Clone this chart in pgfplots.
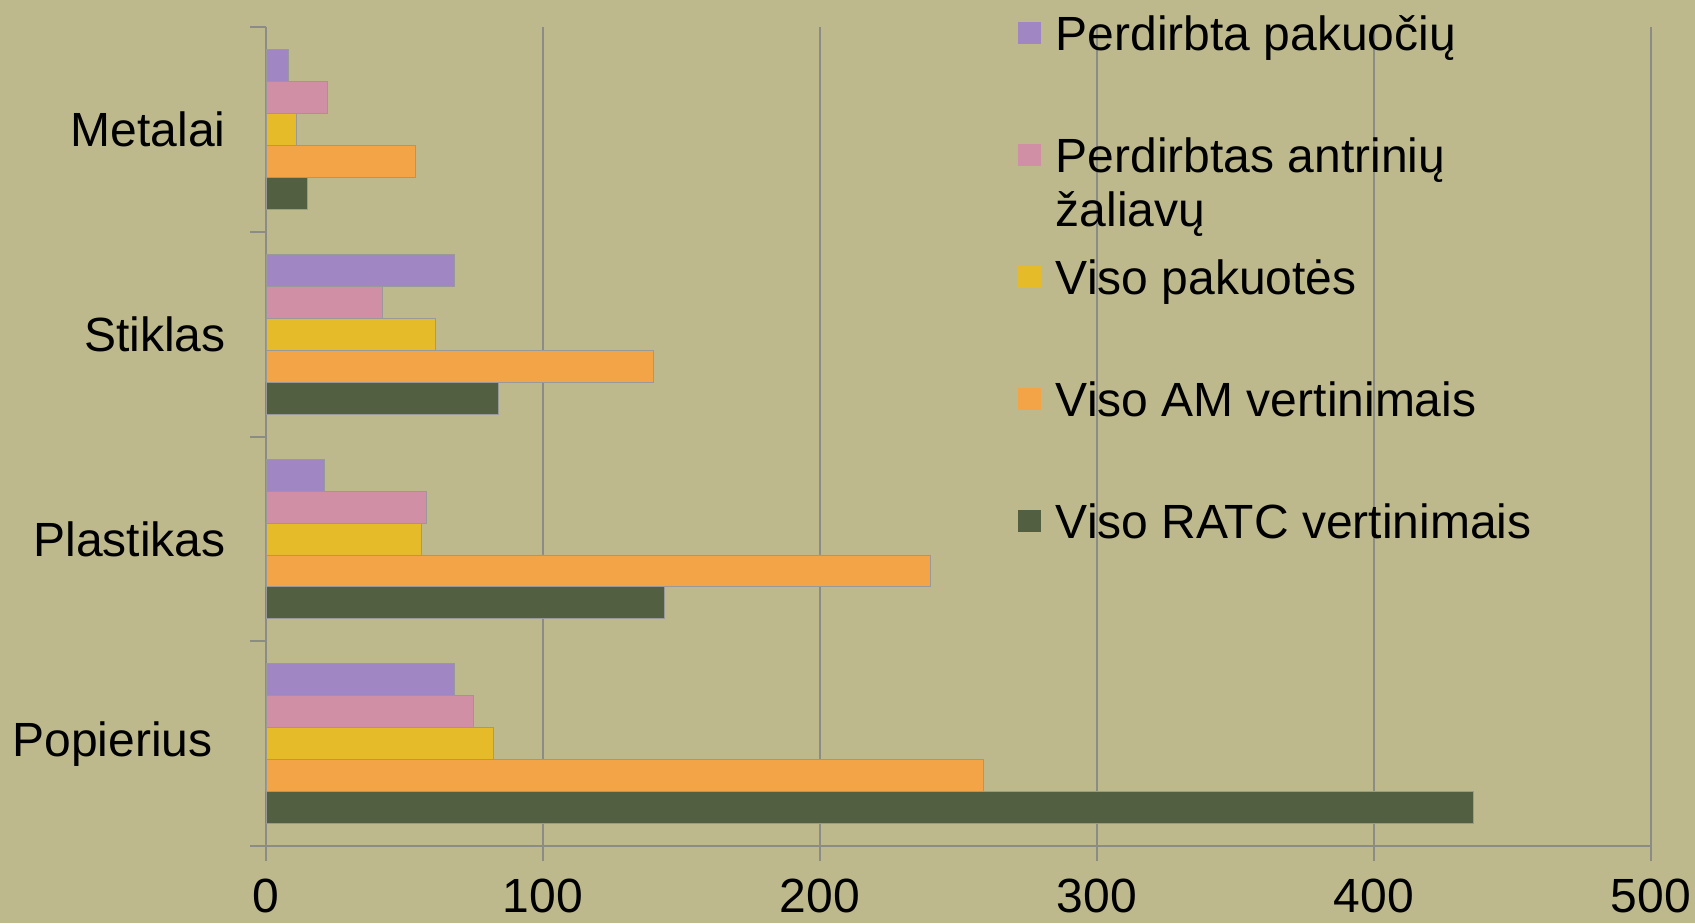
\documentclass[border=0pt]{standalone}
\usepackage{fontspec}
\setmainfont{Liberation Sans}
\usepackage{pgfplots}
\pgfplotsset{compat=1.18}
\definecolor{bg}{RGB}{189,185,141}
\definecolor{cpurple}{RGB}{160,135,195}
\definecolor{cpink}{RGB}{209,143,165}
\definecolor{cyellow}{RGB}{229,187,42}
\definecolor{corange}{RGB}{242,164,70}
\definecolor{cgreen}{RGB}{82,96,65}
\definecolor{gridc}{RGB}{140,140,135}
\newcommand{\bigf}{\fontsize{24}{27}\selectfont}
\begin{document}
\begin{tikzpicture}
\useasboundingbox (-133pt,-38.5pt) rectangle (714.5pt,423pt);
\fill[bg] (-133pt,-38.5pt) rectangle (714.5pt,423pt);
\clip (-133pt,-38.5pt) rectangle (714.5pt,423pt);
\begin{axis}[
  at={(0pt,0pt)}, anchor=south west,
  scale only axis, width=692.5pt, height=409.35pt,
  xbar, bar width=0.156,
  xmin=0, xmax=500, ymin=-0.5, ymax=3.5,
  axis lines*=left, axis line style={gridc, line width=1pt, -},
  tick pos=left, tick align=outside,
  xtick={0,100,...,500}, major tick length=7.5pt,
  ytick={0,1,2,3}, yticklabels={Popierius\kern6.5pt, Plastikas, Stiklas, Metalai},
  major y tick style={draw=none},
  minor ytick={-0.5,0.5,1.5,2.5,3.5}, minor tick length=8pt,
  minor y tick style={gridc, line width=1pt},
  xmajorgrids, grid style={gridc, line width=0.6pt},
  major x tick style={gridc, line width=0.6pt},
  tick label style={font=\bigf, black},
  xticklabel style={yshift=-5.5pt},
  yticklabel style={xshift=-9.2pt},
  /pgf/number format/assume math mode=true,
  legend style={at={(axis description cs:0.543,1)}, anchor=north west, yshift=6.25pt,
    draw=none, fill=none, inner sep=0pt, outer sep=0pt, font=\bigf,
    row sep=37pt, column sep=7.5pt, cells={anchor=base west},
    nodes={inner sep=0pt, text height=18pt, text depth=6pt}},
  legend image code/.code={\fill[#1, draw=none] (0pt,3.2pt) rectangle (11.4pt,14.6pt);},
]
\addplot[fill=cpurple, draw=gray!80, line width=0.4pt, bar shift=0.312] coordinates {(68,0) (21,1) (68,2) (8,3)};
\addplot[fill=cpink, draw=gray!80, line width=0.4pt, bar shift=0.156] coordinates {(75,0) (58,1) (42,2) (22,3)};
\addplot[fill=cyellow, draw=gray!80, line width=0.4pt, bar shift=0] coordinates {(82,0) (56,1) (61,2) (11,3)};
\addplot[fill=corange, draw=gray!80, line width=0.4pt, bar shift=-0.156] coordinates {(259,0) (240,1) (140,2) (54,3)};
\addplot[fill=cgreen, draw=gray!80, line width=0.4pt, bar shift=-0.312] coordinates {(436,0) (144,1) (84,2) (15,3)};
\legend{Perdirbta pakuočių, {\vtop{\hbox{Perdirbtas antrinių}\hbox{žaliavų}}}, Viso pakuotės, Viso AM vertinimais, Viso RATC vertinimais}
\end{axis}
\end{tikzpicture}
\end{document}
